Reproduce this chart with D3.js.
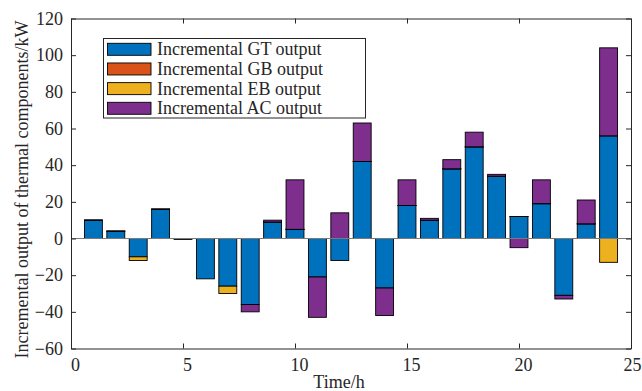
<!DOCTYPE html>
<html>
<head>
<meta charset="utf-8">
<script src="https://cdn.jsdelivr.net/npm/d3@7"></script>
<style>
  html, body { margin: 0; padding: 0; background: #fff; }
  svg { display: block; }
  text { font-family: "Liberation Serif", "Times New Roman", serif; fill: #262626; }
</style>
</head>
<body>
<svg id="chart" width="642" height="391"></svg>
<script>
// Hourly increments of each thermal component (kW)
const hours = d3.range(1, 25);
const gtOutput = [10, 4, -10, 16, -0.5, -22, -26, -36, 9, 5, -21, -12, 42, -27, 18, 10, 38, 50, 34, 12, 19, -31, 8, 56];
const gbOutput = [0, 0, 0, 0, 0, 0, 0, 0, 0, 0, 0, 0, 0, 0, 0, 0, 0, 0, 0, 0, 0, 0, 0, 0];
const ebOutput = [0, 0, -2, 0, 0, 0, -4, 0, 0, 0, 0, 0, 0, 0, 0, 0, 0, 0, 0, 0, 0, 0, 0, -13];
const acOutput = [0, 0, 0, 0, 0, 0, 0, -4, 1, 27, -22, 14, 21, -15, 14, 1, 5, 8, 1, -5, 13, -2, 13, 48];

const seriesNames = ["Incremental GT output", "Incremental GB output", "Incremental EB output", "Incremental AC output"];
const seriesColors = ["#0072BD", "#D95319", "#EDB120", "#7E2F8E"];
const seriesValues = [gtOutput, gbOutput, ebOutput, acOutput];

const xTicks = [0, 5, 10, 15, 20, 25];
const yTicks = [-60, -40, -20, 0, 20, 40, 60, 80, 100, 120];

const svg = d3.select("#chart");
const box = { left: 71, right: 631, top: 18.5, bottom: 348.5 };

const x = d3.scaleLinear().domain([0, 25]).range([box.left, box.right]);
const y = d3.scaleLinear().domain([-60, 120]).range([box.bottom, box.top]);
const barW = x(0.8) - x(0);

// Positive and negative values stack separately, in series order
const segments = [];
hours.forEach((h, i) => {
  let pos = 0, neg = 0;
  seriesValues.forEach((vals, s) => {
    const v = vals[i];
    let y0, y1;
    if (v >= 0) { y0 = pos; y1 = pos + v; pos = y1; }
    else { y0 = neg; y1 = neg + v; neg = y1; }
    segments.push({ h, s, y0, y1 });
  });
});

const plot = svg.append("g");

plot.selectAll("rect.bar")
  .data(segments)
  .join("rect")
  .attr("class", "bar")
  .attr("x", d => x(d.h) - barW / 2)
  .attr("width", barW)
  .attr("y", d => Math.min(y(d.y0), y(d.y1)))
  .attr("height", d => Math.max(Math.abs(y(d.y0) - y(d.y1)), 0.001))
  .attr("fill", d => seriesColors[d.s])
  .attr("stroke", "#000")
  .attr("stroke-width", 0.9);

// Baseline at zero
plot.append("line")
  .attr("x1", box.left).attr("x2", box.right)
  .attr("y1", y(0)).attr("y2", y(0))
  .attr("stroke", "#7a7a7a")
  .attr("stroke-width", 1);

// Axes with inward ticks on all four sides
const tickLen = 5;
const axisColor = "#262626";
const fontSize = 18;

const bottomAxis = d3.axisBottom(x).tickValues(xTicks).tickSizeInner(-tickLen).tickSizeOuter(0).tickPadding(10);
const topAxis = d3.axisTop(x).tickValues(xTicks).tickSizeInner(-tickLen).tickSizeOuter(0).tickFormat("");
const leftAxis = d3.axisLeft(y).tickValues(yTicks).tickSizeInner(-tickLen).tickSizeOuter(0).tickPadding(8)
  .tickFormat(d => d < 0 ? "\u2212" + Math.abs(d) : d);
const rightAxis = d3.axisRight(y).tickValues(yTicks).tickSizeInner(-tickLen).tickSizeOuter(0).tickFormat("");

function styleAxis(g) {
  g.selectAll("path.domain").attr("stroke", axisColor).attr("stroke-width", 1);
  g.selectAll(".tick line").attr("stroke", axisColor).attr("stroke-width", 1);
  g.selectAll(".tick text")
    .style("font-family", '"Liberation Serif", "Times New Roman", serif')
    .style("font-size", fontSize + "px")
    .attr("fill", axisColor);
}

// Last x label is nudged less so it stays inside the figure
svg.append("g").attr("transform", `translate(0,${box.bottom})`).call(bottomAxis).call(styleAxis)
  .selectAll(".tick text").attr("dx", d => d === 25 ? 1 : 4);
svg.append("g").attr("transform", `translate(0,${box.top})`).call(topAxis).call(styleAxis);
svg.append("g").attr("transform", `translate(${box.left},0)`).call(leftAxis).call(styleAxis);
svg.append("g").attr("transform", `translate(${box.right},0)`).call(rightAxis).call(styleAxis);

// Axis titles
svg.append("text")
  .attr("x", 339)
  .attr("y", 388)
  .attr("text-anchor", "middle")
  .style("font-size", fontSize + "px")
  .text("Time/h");

svg.append("text")
  .attr("transform", `translate(28,189.5) rotate(-90)`)
  .attr("text-anchor", "middle")
  .style("font-size", fontSize + "px")
  .text("Incremental output of thermal components/kW");

// Legend
const legend = svg.append("g").attr("transform", "translate(103.5,38.5)");
legend.append("rect")
  .attr("width", 262).attr("height", 79.5)
  .attr("fill", "#fff")
  .attr("stroke", axisColor)
  .attr("stroke-width", 1);

const rowY = d3.scaleLinear().domain([0, 3]).range([10.8, 69.8]);
const item = legend.selectAll("g.item")
  .data(seriesNames)
  .join("g")
  .attr("class", "item")
  .attr("transform", (d, i) => `translate(0,${rowY(i)})`);

item.append("rect")
  .attr("x", 4).attr("y", -6)
  .attr("width", 43.5).attr("height", 12)
  .attr("fill", (d, i) => seriesColors[i])
  .attr("stroke", "#000")
  .attr("stroke-width", 0.9);

item.append("text")
  .attr("x", 53.5)
  .attr("y", 6)
  .style("font-size", fontSize + "px")
  .text(d => d);
</script>
</body>
</html>
